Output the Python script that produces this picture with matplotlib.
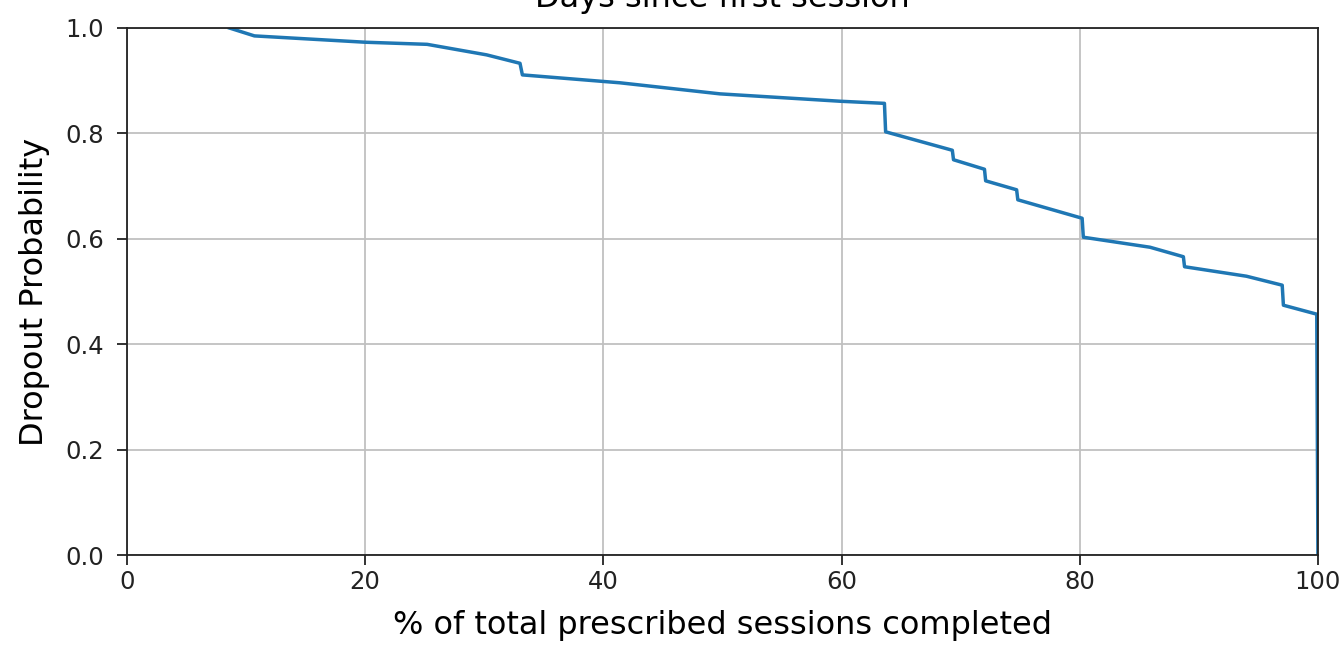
import matplotlib.pyplot as plt
import numpy as np

# curve points (percent completed, dropout probability)
pct_done = [8.6, 10.7, 20.0, 25.2, 30.2, 33.0, 33.2, 41.4, 49.8, 59.9, 63.6, 63.7,
            69.3, 69.4, 72.0, 72.1, 74.7, 74.8, 80.2, 80.3, 85.9, 88.7, 88.8,
            94.0, 97.0, 97.1, 99.9, 100.0]
dropout_prob = [1.0, 0.985, 0.973, 0.969, 0.949, 0.933, 0.911, 0.896, 0.875, 0.861, 0.857, 0.803,
                0.768, 0.750, 0.732, 0.710, 0.693, 0.674, 0.639, 0.603, 0.584, 0.566, 0.547,
                0.529, 0.512, 0.474, 0.457, 0.0]

x_ticks = [0, 20, 40, 60, 80, 100]
y_ticks = [0.0, 0.2, 0.4, 0.6, 0.8, 1.0]

fig = plt.figure(figsize=(13.41, 6.45), dpi=100)
ax = fig.add_axes([0.0947, 0.1395, 0.8881, 0.8171])

ax.plot(pct_done, dropout_prob, color='#1f77b4', linewidth=2.5)

ax.set_xlim(0, 100)
ax.set_ylim(0, 1)
ax.set_xticks(x_ticks)
ax.set_yticks(y_ticks)
ax.set_yticklabels(['%.1f' % v for v in y_ticks])
ax.tick_params(labelsize=17.5, length=7, width=1.3, colors='#222222')
ax.tick_params(axis='y', pad=9.5)
ax.grid(True, color='#c0c0c0', linewidth=1.3)
for s in ax.spines.values():
    s.set_linewidth(1.3)
    s.set_color('#222222')

ax.set_xlabel('% of total prescribed sessions completed', fontsize=23, labelpad=12)
ax.set_ylabel('Dropout Probability', fontsize=23, labelpad=11)
# title sits partly above the figure edge, as in the original
ax.set_title('Days since first session', fontsize=23, pad=15)

fig.savefig('out.png', dpi=100)
